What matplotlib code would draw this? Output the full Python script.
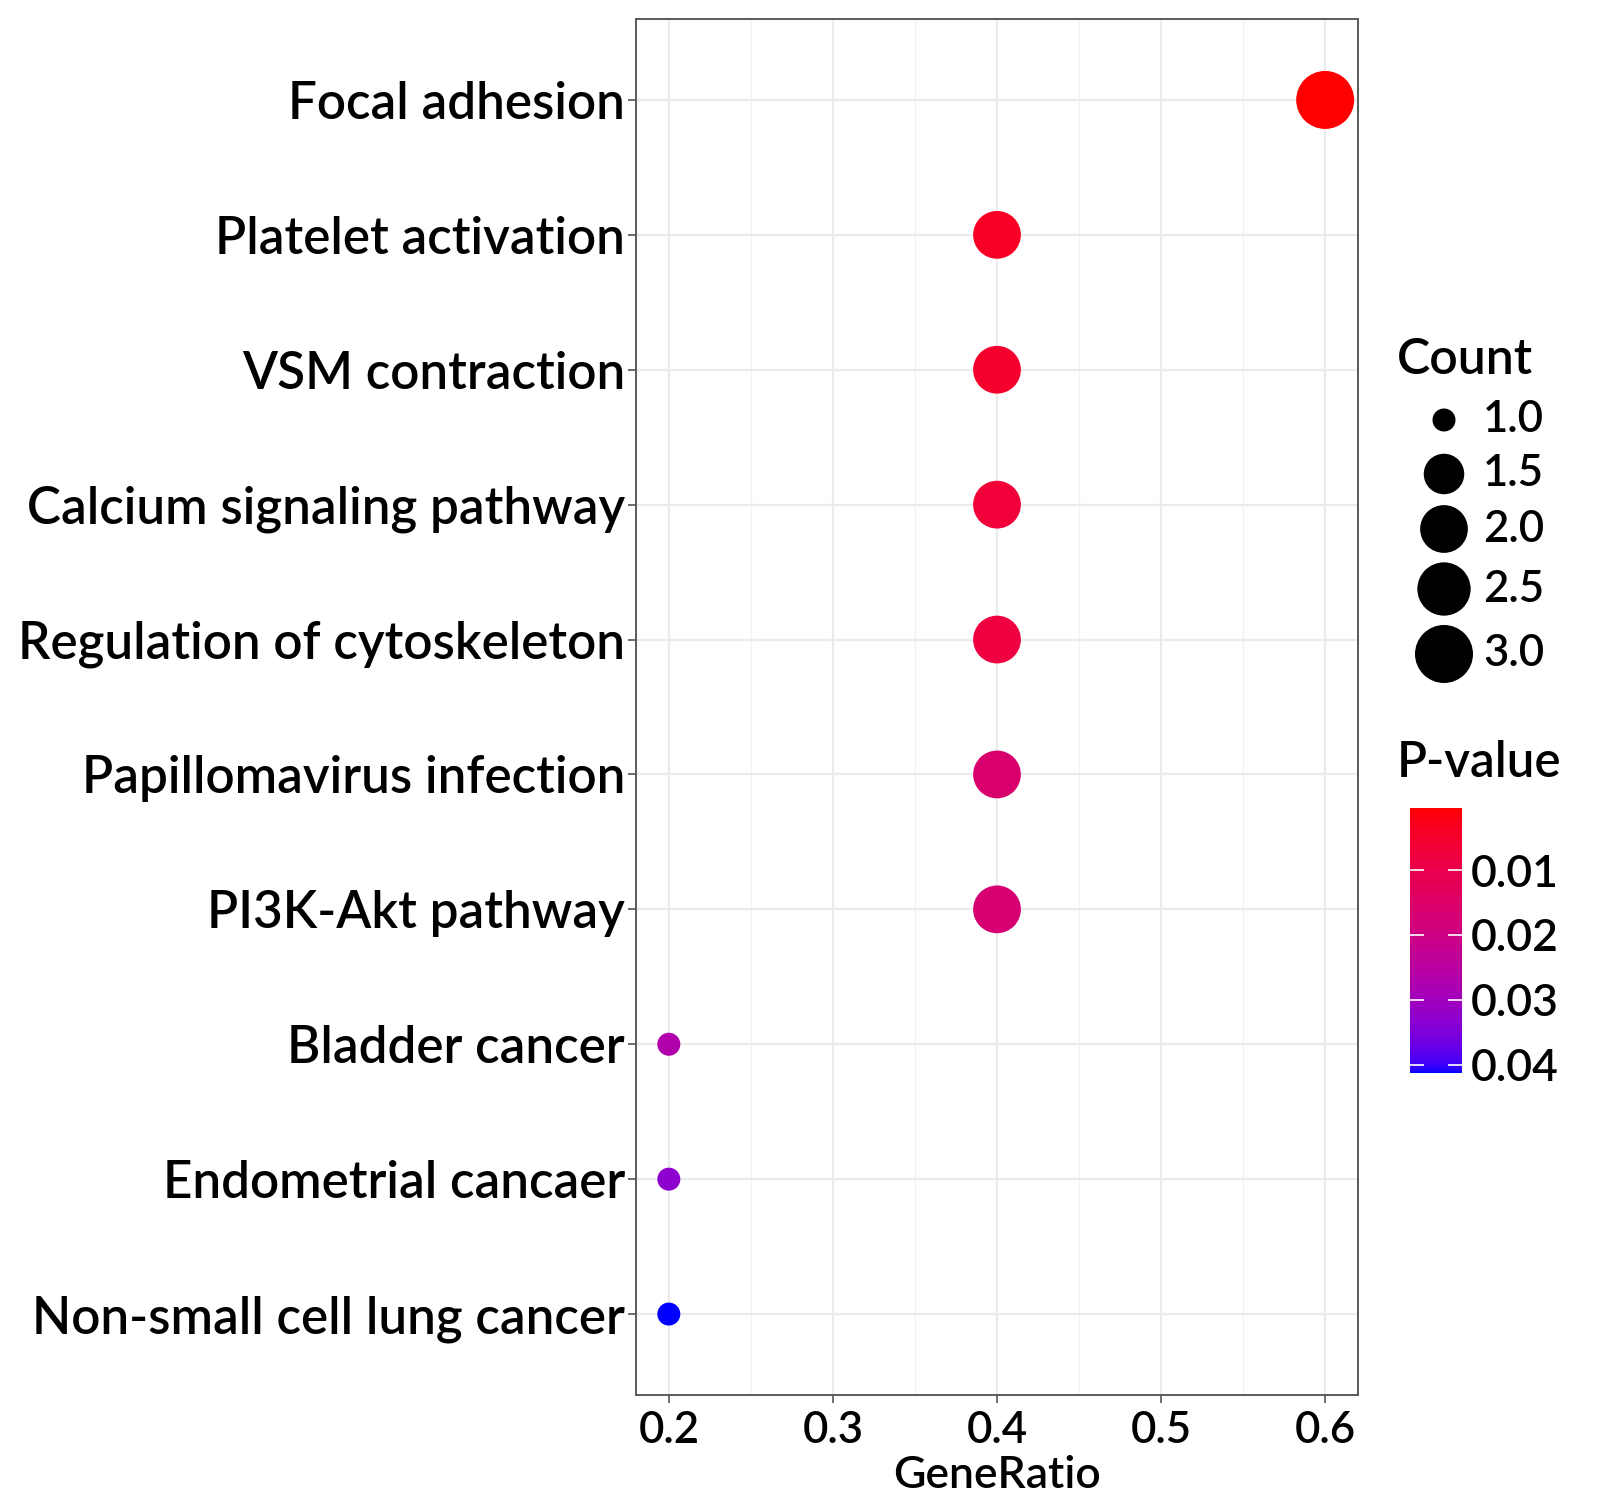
import numpy as np
import matplotlib
matplotlib.use("Agg")
import matplotlib.pyplot as plt
from matplotlib.colors import ListedColormap, Normalize
from matplotlib.cm import ScalarMappable

# ---------------- data ----------------
categories = ["Focal adhesion", "Platelet activation", "VSM contraction",
              "Calcium signaling pathway", "Regulation of cytoskeleton",
              "Papillomavirus infection", "PI3K-Akt pathway", "Bladder cancer",
              "Endometrial cancaer", "Non-small cell lung cancer"]
gene_ratio = [0.6, 0.4, 0.4, 0.4, 0.4, 0.4, 0.4, 0.2, 0.2, 0.2]
counts = [3, 2, 2, 2, 2, 2, 2, 1, 1, 1]
p_values = [0.0004, 0.004, 0.005, 0.007, 0.008, 0.016, 0.017, 0.027, 0.033, 0.0413]
x_ticks = [0.2, 0.3, 0.4, 0.5, 0.6]
x_minor = [0.25, 0.35, 0.45, 0.55]
size_breaks = [1.0, 1.5, 2.0, 2.5, 3.0]
p_breaks = [0.01, 0.02, 0.03, 0.04]

FONT = "Lato"
WEIGHT = "semibold"
W, H = 1601, 1497
DPI = 100

# ---------------- colour scale (Lab interpolation like ggplot) ----------------
M = np.array([[0.4124564, 0.3575761, 0.1804375],
              [0.2126729, 0.7151522, 0.0721750],
              [0.0193339, 0.1191920, 0.9503041]])
WHITE = np.array([0.95047, 1.0, 1.08883])

def srgb_to_lab(rgb):
    c = np.asarray(rgb, float)
    lin = np.where(c <= 0.04045, c / 12.92, ((c + 0.055) / 1.055) ** 2.4)
    xyz = M @ lin / WHITE
    f = np.where(xyz > 0.008856, np.cbrt(xyz), 7.787 * xyz + 16 / 116)
    return np.array([116 * f[1] - 16, 500 * (f[0] - f[1]), 200 * (f[1] - f[2])])

def lab_to_srgb(lab):
    L, a, b = lab
    fy = (L + 16) / 116
    fx = fy + a / 500
    fz = fy - b / 200
    f = np.array([fx, fy, fz])
    xyz = np.where(f ** 3 > 0.008856, f ** 3, (f - 16 / 116) / 7.787) * WHITE
    lin = np.linalg.solve(M, xyz)
    lin = np.clip(lin, 0, 1)
    c = np.where(lin <= 0.0031308, 12.92 * lin, 1.055 * lin ** (1 / 2.4) - 0.055)
    return np.clip(c, 0, 1)

lab_lo = srgb_to_lab([1, 0, 0])
lab_hi = srgb_to_lab([0, 0, 1])
cmap = ListedColormap([lab_to_srgb(lab_lo + t * (lab_hi - lab_lo))
                       for t in np.linspace(0, 1, 256)])
norm = Normalize(vmin=min(p_values), vmax=max(p_values))

# ---------------- size scale (area-like, ggplot) ----------------
dmin, dmax = 23.0, 58.0   # diameters in px
cmin, cmax = min(counts), max(counts)

def size_pts2(c):
    c = np.asarray(c, float)
    d = dmin + (dmax - dmin) * np.sqrt((c - cmin) / (cmax - cmin))
    return (d * 72.0 / DPI) ** 2

# ---------------- figure ----------------
fig = plt.figure(figsize=(W / DPI, H / DPI), dpi=DPI)
L, R, T, B = 636, 1358, 19, 1395
ax = fig.add_axes([L / W, 1 - B / H, (R - L) / W, (B - T) / H])

n = len(categories)
ypos = [n - i for i in range(n)]

ax.set_xlim(0.18, 0.62)
ax.set_ylim(0.4, n + 0.6)
ax.set_xticks(x_ticks)
ax.set_xticks(x_minor, minor=True)
ax.set_xticklabels([f"{v:.1f}" for v in x_ticks])
ax.set_yticks(ypos)
ax.set_yticklabels(categories)

ax.grid(True, which="major", color="#EBEBEB", linewidth=1.6, zorder=0)
ax.grid(True, which="minor", axis="x", color="#F2F2F2", linewidth=1.0, zorder=0)
ax.set_axisbelow(True)

ax.scatter(gene_ratio, ypos, s=size_pts2(counts), c=p_values, cmap=cmap, norm=norm,
           linewidths=0, zorder=3)

for sp in ax.spines.values():
    sp.set_color("#5a5a5a")
    sp.set_linewidth(1.4)
ax.tick_params(axis="both", which="major", length=6, width=1.2, color="#555555",
               pad=2)
ax.tick_params(axis="x", which="major", pad=5)
ax.tick_params(axis="x", which="minor", length=0)
for lab in ax.get_yticklabels():
    lab.set_fontfamily(FONT)
    lab.set_fontweight(WEIGHT)
    lab.set_fontsize(36.8)
    lab.set_color("black")
for lab in ax.get_xticklabels():
    lab.set_fontfamily(FONT)
    lab.set_fontweight(WEIGHT)
    lab.set_fontsize(31.5)
    lab.set_color("black")
ax.set_xlabel("GeneRatio", fontfamily=FONT, fontweight=WEIGHT, fontsize=32, labelpad=3)

# ---------------- legends ----------------
lax = fig.add_axes([0, 0, 1, 1])
lax.set_xlim(0, W)
lax.set_ylim(H, 0)
lax.axis("off")

lax.text(1397, 360, "Count", fontfamily=FONT, fontweight=WEIGHT, fontsize=36,
         va="center", ha="left")
key_y = [420, 474, 529, 589, 654]
lax.scatter([1444] * len(size_breaks), key_y, s=size_pts2(size_breaks), color="black",
            linewidths=0)
for yy, v in zip(key_y, size_breaks):
    lax.text(1483, yy, f"{v:.1f}", fontfamily=FONT, fontweight=WEIGHT, fontsize=31.5,
             va="center", ha="left")

lax.text(1397, 763, "P-value", fontfamily=FONT, fontweight=WEIGHT, fontsize=35.5,
         va="center", ha="left")

cax = fig.add_axes([1410 / W, 1 - 1073 / H, 52 / W, 265 / H])
cb = fig.colorbar(ScalarMappable(norm=norm, cmap=cmap), cax=cax)
cb.outline.set_visible(False)
cax.invert_yaxis()
cb.set_ticks(p_breaks)
cb.set_ticklabels([f"{v:.2f}" for v in p_breaks])
cax.tick_params(axis="y", direction="in", length=10, width=1.2, color="white",
                left=True, right=True, pad=6)
for lab in cax.get_yticklabels():
    lab.set_fontfamily(FONT)
    lab.set_fontweight(WEIGHT)
    lab.set_fontsize(32)

fig.savefig("out.png", dpi=DPI, facecolor="white")
